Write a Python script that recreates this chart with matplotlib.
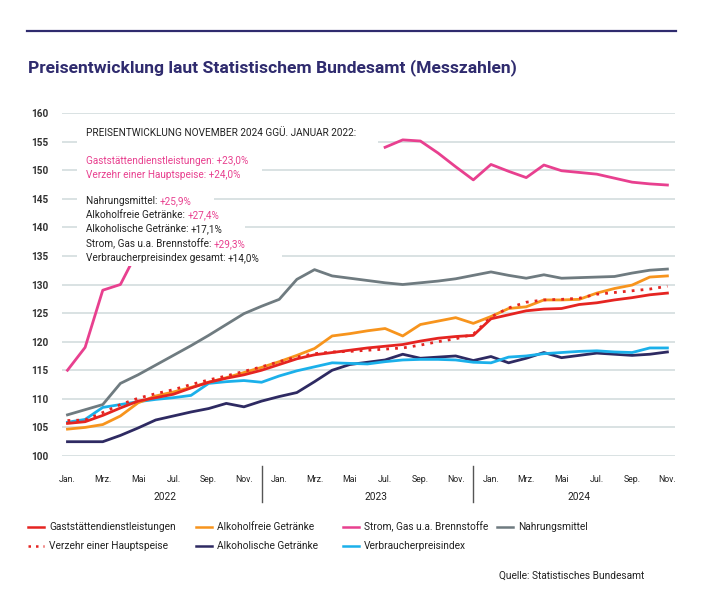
import matplotlib
matplotlib.use("Agg")
import numpy as np
import matplotlib.pyplot as plt
import matplotlib.transforms as mtransforms
from matplotlib.patches import Rectangle

# Monate Jan. 2022 bis Nov. 2024 (Index 0..34)
monate = np.arange(35)
tick_labels = ["Jan.", "Mrz.", "Mai", "Jul.", "Sep.", "Nov."] * 3
jahre = ["2022", "2023", "2024"]

gaststaetten = [105.7, 106.0, 107.1, 108.4, 109.6, 110.2, 110.8, 111.9, 112.9, 113.6, 114.2, 115.0,
                116.0, 117.0, 117.7, 118.1, 118.5, 118.9, 119.2, 119.5, 120.1, 120.6, 120.9, 121.1,
                124.0, 124.7, 125.4, 125.7, 125.8, 126.5, 126.8, 127.3, 127.7, 128.2, 128.5]
hauptspeise = [106.2, 106.3, 107.6, 109.0, 110.1, 110.9, 111.6, 112.5, 113.3, 114.0, 114.8, 115.6,
               116.5, 117.3, 117.9, 118.2, 118.3, 118.5, 118.7, 118.9, 119.4, 120.0, 120.5, 121.3,
               124.3, 125.9, 126.9, 127.3, 127.4, 127.6, 128.3, 128.6, 128.9, 129.2, 129.7]
alkoholfrei = [104.7, 105.0, 105.5, 107.0, 109.3, 110.5, 111.2, 112.0, 112.9, 113.7, 114.6, 115.5,
               116.5, 117.6, 118.8, 121.0, 121.4, 121.9, 122.3, 121.0, 123.0, 123.6, 124.2, 123.2,
               124.4, 125.8, 126.1, 127.3, 127.3, 127.4, 128.5, 129.3, 129.9, 131.3, 131.5]
# Mai 2022 bis Juni 2023 liegen hinter dem Textblock / außerhalb der Skala
strom = [115.0, 119.0, 129.0, 130.0, 136.0, np.nan, np.nan, np.nan, np.nan, np.nan, np.nan, np.nan,
         np.nan, np.nan, np.nan, np.nan, np.nan, np.nan, 154.0, 155.3, 155.1, 153.0, 150.6, 148.3,
         151.0, 149.8, 148.7, 150.9, 149.9, 149.6, 149.3, 148.6, 147.9, 147.6, 147.4]
nahrung = [107.2, 108.1, 109.0, 112.7, 114.2, 115.9, 117.6, 119.3, 121.1, 123.0, 124.9, 126.2,
           127.4, 130.9, 132.6, 131.5, 131.1, 130.7, 130.3, 130.0, 130.3, 130.6, 131.0, 131.6,
           132.2, 131.6, 131.1, 131.7, 131.1, 131.2, 131.3, 131.4, 132.0, 132.5, 132.7]
alkoholisch = [102.5, 102.5, 102.5, 103.6, 104.9, 106.3, 107.0, 107.7, 108.3, 109.2, 108.6, 109.6,
               110.4, 111.1, 113.0, 115.0, 116.0, 116.4, 116.8, 117.8, 117.1, 117.3, 117.5, 116.7,
               117.4, 116.3, 117.1, 118.1, 117.2, 117.6, 118.0, 117.8, 117.6, 117.8, 118.2]
vpi = [105.9, 106.4, 108.5, 109.0, 109.5, 109.9, 110.2, 110.6, 112.7, 113.0, 113.2, 112.9,
       114.0, 114.9, 115.6, 116.3, 116.2, 116.1, 116.5, 116.8, 116.9, 116.9, 116.8, 116.4,
       116.3, 117.3, 117.5, 117.9, 118.1, 118.3, 118.4, 118.2, 118.1, 118.9, 118.9]

ROT = "#e52421"
ORANGE = "#f7941d"
PINK = "#e8408f"
GRAU = "#6f7b80"
NAVY = "#2e2a62"
BLAU = "#1bb0ea"
TEXT = "#222222"
TITEL = "#2f2b6e"

plt.rcParams["font.family"] = ["Roboto", "DejaVu Sans"]

fig = plt.figure(figsize=(7.16, 6.0), dpi=100)
ax = fig.add_axes([62 / 716, 144 / 600, 613 / 716, 343 / 600])

# Linien
ax.plot(monate, nahrung, color=GRAU, lw=2.0, zorder=3)
ax.plot(monate, strom, color=PINK, lw=2.0, zorder=3)
ax.plot(monate, alkoholisch, color=NAVY, lw=2.0, zorder=3)
ax.plot(monate, vpi, color=BLAU, lw=2.0, zorder=3)
ax.plot(monate, alkoholfrei, color=ORANGE, lw=2.0, zorder=3)
ax.plot(monate, gaststaetten, color=ROT, lw=2.0, zorder=3)
ax.plot(monate, hauptspeise, color=ROT, lw=2.0, ls=(0, (1, 2.2)), zorder=3)

ax.set_xlim(-0.31, 34.43)
ax.set_ylim(100, 160)
ax.set_yticks(np.arange(100, 161, 5))
ax.grid(axis="y", color="#d9e2e3", lw=1.4, zorder=0)
ax.set_axisbelow(True)
for s in ax.spines.values():
    s.set_visible(False)
ax.tick_params(axis="y", length=0, pad=10, labelsize=7.2, labelcolor="#333333")
for lab in ax.get_yticklabels():
    lab.set_fontweight("bold")

ax.set_xticks(monate[::2])
ax.set_xticklabels(tick_labels, fontsize=6.3, color=TEXT)
ax.tick_params(axis="x", length=0, pad=14)

trans = mtransforms.blended_transform_factory(ax.transData, ax.transAxes)
for pos, jahr in zip([5.5, 17.5, 29], jahre):
    ax.text(pos, -0.12, jahr, transform=trans, ha="center", va="center",
            fontsize=7.3, color=TEXT)
for pos in [11, 23]:
    ax.plot([pos, pos], [-0.03, -0.135], transform=trans, color="#555555", lw=1, clip_on=False)

# Textblock
x0 = (86 - 62) / 613


def ya(py):
    return (456 - py) / 343


zeilen = [("PREISENTWICKLUNG NOVEMBER 2024 GGÜ. JANUAR 2022:", "", TEXT, TEXT, 133),
          ("Gaststättendienstleistungen: +23,0%", "", PINK, PINK, 161),
          ("Verzehr einer Hauptspeise: +24,0%", "", PINK, PINK, 175),
          ("Nahrungsmittel: ", "+25,9%", TEXT, PINK, 201),
          ("Alkoholfreie Getränke: ", "+27,4%", TEXT, PINK, 215),
          ("Alkoholische Getränke: ", "+17,1%", TEXT, TEXT, 229),
          ("Strom, Gas u.a. Brennstoffe: ", "+29,3%", TEXT, PINK, 244),
          ("Verbraucherpreisindex gesamt: ", "+14,0%", TEXT, TEXT, 258)]
zeilen_texte = []
for label, wert, farbe1, farbe2, py in zeilen:
    t = ax.text(x0, ya(py), label, transform=ax.transAxes, fontsize=7.2, color=farbe1,
                va="center", zorder=6)
    teile = [t]
    if wert:
        teile.append(ax.annotate(wert, xy=(1, 0), xycoords=t, va="bottom", fontsize=7.2,
                                 color=farbe2, zorder=6))
    zeilen_texte.append((teile, py))

# weiße Hinterlegung je Zeile
fig.canvas.draw()
renderer = fig.canvas.get_renderer()
H = 600
for n, (teile, py) in enumerate(zeilen_texte):
    rechts = max(tt.get_window_extent(renderer).x1 for tt in teile)
    rechts_px = rechts + 22
    if n == 0:
        oben, unten = py - 11, py + 13
    else:
        oben, unten = py - 8, py + 7.5
    x_a = (77 - 62) / 613
    w_a = (rechts_px - 62 - 15) / 613
    ax.add_patch(Rectangle((x_a, ya(unten)), w_a, (unten - oben) / 343, transform=ax.transAxes,
                           facecolor="white", edgecolor="none", zorder=5))

# Kopf
fig.add_artist(plt.Line2D([27 / 716, 676 / 716], [1 - 31 / 600, 1 - 31 / 600], color=TITEL, lw=1.6))
fig.text(28 / 716, 1 - 68 / 600, "Preisentwicklung laut Statistischem Bundesamt (Messzahlen)",
         fontsize=12.6, fontweight="bold", color=TITEL, va="center")

# Legende
legende = [("Gaststättendienstleistungen", ROT, "-", 28, 527),
           ("Alkoholfreie Getränke", ORANGE, "-", 196, 527),
           ("Strom, Gas u.a. Brennstoffe", PINK, "-", 343, 527),
           ("Nahrungsmittel", GRAU, "-", 497, 527),
           ("Verzehr einer Hauptspeise", ROT, ":", 28, 546),
           ("Alkoholische Getränke", NAVY, "-", 196, 546),
           ("Verbraucherpreisindex", BLAU, "-", 343, 546)]
for name, farbe, stil, px, py in legende:
    yy = 1 - py / 600
    ls = (0, (1, 2)) if stil == ":" else "-"
    fig.add_artist(plt.Line2D([px / 716, (px + 16) / 716], [yy, yy], color=farbe, lw=1.8, ls=ls))
    fig.text((px + 21) / 716, yy, name, fontsize=7.3, color=TEXT, va="center")

fig.text(499 / 716, 1 - 576 / 600, "Quelle: Statistisches Bundesamt",
         fontsize=7.3, color=TEXT, va="center")

plt.savefig("out.png", dpi=100)
plt.close()
